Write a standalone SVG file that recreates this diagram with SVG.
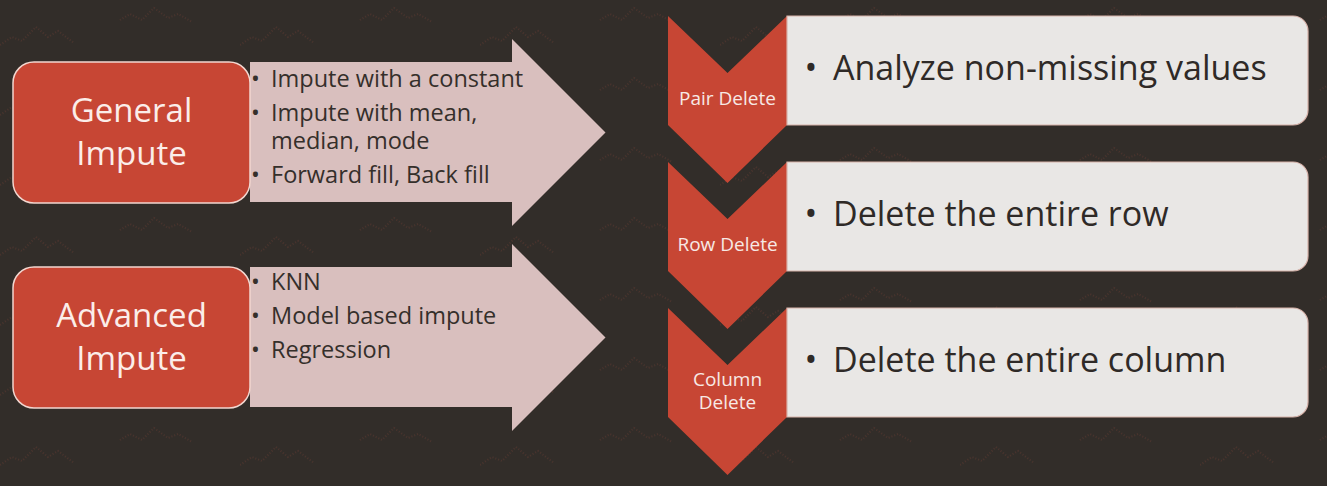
<svg xmlns="http://www.w3.org/2000/svg" width="1327" height="486" viewBox="0 0 1327 486">
  <defs>
    <style>
      .bg { fill: #322D29; }
      .redbox { fill: #C74634; stroke: #F2D6CF; stroke-width: 1.5; }
      .arrow { fill: #D9BFBE; }
      .chev { fill: #C74634; }
      .card { fill: #E9E7E5; stroke: #D8B3AA; stroke-width: 1.2; }
      .big { font-family: "Open Sans", "Noto Sans", sans-serif; font-size: 33px; fill: #FBEDE9; text-anchor: middle; }
      .item { font-family: "Open Sans", "Noto Sans", sans-serif; font-size: 23.5px; fill: #352F2B; }
      .clab { font-family: "Open Sans", "Noto Sans", sans-serif; font-size: 19px; fill: #F7E9E5; text-anchor: middle; }
      .ctext { font-family: "Open Sans", "Noto Sans", sans-serif; font-size: 34px; fill: #2F2A27; }
      .wave { fill: none; stroke: #6E3B31; stroke-width: 2; stroke-dasharray: 1 2; opacity: 0.4; }
    </style>
    <pattern id="tex" x="0" y="0" width="240" height="70" patternUnits="userSpaceOnUse">
      <path class="wave" d="M0 45 l 12 -8 l 10 4 l 14 -14 l 12 10 l 10 -6 l 16 12"/>
      <path class="wave" d="M120 20 l 10 -6 l 12 6 l 12 -12 l 14 10 l 10 -4 l 14 8"/>
    </pattern>
  </defs>

  <rect class="bg" x="0" y="0" width="1327" height="486"/>
  <rect x="0" y="0" width="1327" height="486" fill="url(#tex)"/>

  <g id="arrows">
    <g id="arrow-general">
      <polygon class="arrow" points="250,62 512,62 512,39 605.5,132.5 512,226 512,202 250,202"/>
      <text class="item" x="251" y="87">•</text>
      <text class="item" x="271" y="87">Impute with a constant</text>
      <text class="item" x="251" y="121">•</text>
      <text class="item" y="121"><tspan x="271">Impute with mean,</tspan><tspan x="271" dy="28">median, mode</tspan></text>
      <text class="item" x="251" y="183">•</text>
      <text class="item" x="271" y="183">Forward fill, Back fill</text>
    </g>
    <g id="arrow-advanced">
      <polygon class="arrow" points="250,267 512,267 512,244 605.5,337.5 512,431 512,407 250,407"/>
      <text class="item" x="251" y="290">•</text>
      <text class="item" x="271" y="290">KNN</text>
      <text class="item" x="251" y="324">•</text>
      <text class="item" x="271" y="324">Model based impute</text>
      <text class="item" x="251" y="358">•</text>
      <text class="item" x="271" y="358">Regression</text>
    </g>
  </g>

  <g id="general-impute">
    <rect class="redbox" x="13" y="62" width="237" height="141" rx="21"/>
    <text class="big" x="131.5" y="122">General</text>
    <text class="big" x="131.5" y="165">Impute</text>
  </g>

  <g id="advanced-impute">
    <rect class="redbox" x="13" y="267" width="237" height="141" rx="21"/>
    <text class="big" x="131.5" y="327">Advanced</text>
    <text class="big" x="131.5" y="370">Impute</text>
  </g>

  <g id="pair-delete">
    <polygon class="chev" points="668,16 727.5,73 787,16 787,125 727.5,183 668,125"/>
    <text class="clab" x="727.5" y="105">Pair Delete</text>
    <path class="card" d="M787 16 H1293 A15 15 0 0 1 1308 31 V110 A15 15 0 0 1 1293 125 H787 Z"/>
    <text class="ctext" x="804.5" y="80">•</text>
    <text class="ctext" x="833" y="80">Analyze non-missing values</text>
  </g>

  <g id="row-delete">
    <polygon class="chev" points="668,162 727.5,219 787,162 787,271 727.5,329 668,271"/>
    <text class="clab" x="727.5" y="251">Row Delete</text>
    <path class="card" d="M787 162 H1293 A15 15 0 0 1 1308 177 V256 A15 15 0 0 1 1293 271 H787 Z"/>
    <text class="ctext" x="804.5" y="226">•</text>
    <text class="ctext" x="833" y="226">Delete the entire row</text>
  </g>

  <g id="column-delete">
    <polygon class="chev" points="668,308 727.5,365 787,308 787,417 727.5,475 668,417"/>
    <text class="clab" y="386"><tspan x="727.5">Column</tspan><tspan x="727.5" dy="23">Delete</tspan></text>
    <path class="card" d="M787 308 H1293 A15 15 0 0 1 1308 323 V402 A15 15 0 0 1 1293 417 H787 Z"/>
    <text class="ctext" x="804.5" y="372">•</text>
    <text class="ctext" x="833" y="372">Delete the entire column</text>
  </g>
</svg>
